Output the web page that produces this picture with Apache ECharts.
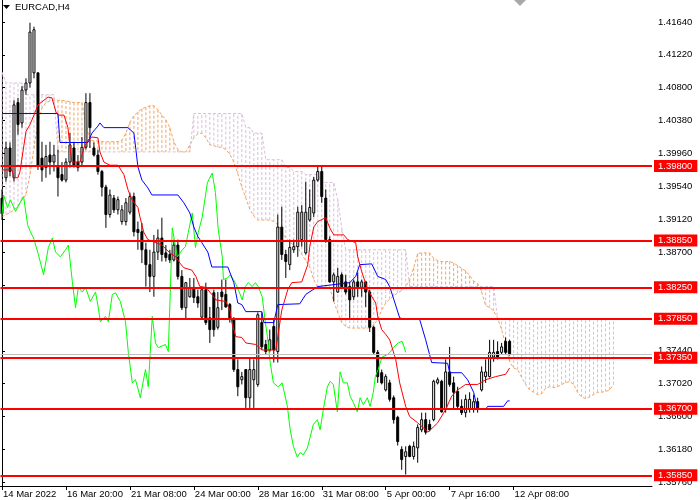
<!DOCTYPE html>
<html>
<head>
<meta charset="utf-8">
<title>EURCAD,H4</title>
<script src="https://cdn.jsdelivr.net/npm/echarts@6/dist/echarts.min.js"></script>
<style>
    html, body { margin: 0; padding: 0; background: #ffffff; }
    #chart { width: 700px; height: 500px; }
</style>
</head>
<body>
<div id="chart"></div>
<script>
// time axis labels, one every 16 bars (H4)
var timeLabels = ['14 Mar 2022', '16 Mar 20:00', '21 Mar 08:00', '24 Mar 00:00', '28 Mar 16:00',
    '31 Mar 08:00', '5 Apr 00:00', '7 Apr 16:00', '12 Apr 08:00'];
var timeTicks = [0, 16, 32, 48, 64, 80, 96, 112, 128];

// price scale labels
var priceTicks = [1.3576, 1.3618, 1.3660, 1.3702, 1.3744, 1.3786, 1.3828, 1.3870,
    1.3912, 1.3954, 1.3996, 1.4038, 1.4080, 1.4122, 1.4164];

// horizontal levels (red)
var levels = [1.3980, 1.3885, 1.3825, 1.3785, 1.3735, 1.3670, 1.3585];

// candles
var opens = [1.3939,1.3965,1.4003,1.3965,1.4061,1.4035,1.4077,1.4086,1.4099,1.4099,
    1.3990,1.3978,1.3994,1.3985,1.3979,1.3969,1.3962,1.3985,1.4003,1.3985,
    1.3985,1.4004,1.4061,1.4003,1.3994,1.3973,1.3953,1.3918,1.3939,1.3924,
    1.3909,1.3909,1.3921,1.3941,1.3899,1.3896,1.3873,1.3854,1.3839,1.3870,
    1.3888,1.3869,1.3867,1.3860,1.3879,1.3839,1.3799,1.3813,1.3825,1.3813,
    1.3787,1.3822,1.3786,1.3818,1.3774,1.3819,1.3816,1.3803,1.3784,1.3720,
    1.3707,1.3720,1.3684,1.3707,1.3701,1.3780,1.3752,1.3745,1.3775,1.3743,
    1.3902,1.3867,1.3854,1.3873,1.3877,1.3886,1.3869,1.3911,1.3920,1.3962,
    1.3973,1.3939,1.3886,1.3832,1.3819,1.3841,1.3832,1.3826,1.3813,1.3832,
    1.3825,1.3832,1.3819,1.3774,1.3742,1.3716,1.3694,1.3703,1.3684,1.3659,
    1.3618,1.3609,1.3622,1.3609,1.3620,1.3643,1.3656,1.3650,1.3656,1.3703,
    1.3705,1.3669,1.3717,1.3703,1.3692,1.3673,1.3665,1.3669,1.3669,1.3679,
    1.3694,1.3711,1.3711,1.3736,1.3743,1.3742,1.3756,1.3756];
var closes = [1.3919,1.4003,1.3973,1.4058,1.4033,1.4077,1.4086,1.4151,1.4154,1.3981,
    1.3975,1.3992,1.3985,1.3994,1.3965,1.3962,1.3985,1.4007,1.3981,1.3978,
    1.4004,1.4061,1.4029,1.3994,1.3973,1.3953,1.3918,1.3943,1.3924,1.3937,
    1.3924,1.3933,1.3941,1.3896,1.3895,1.3873,1.3854,1.3839,1.3870,1.3888,
    1.3867,1.3863,1.3860,1.3879,1.3839,1.3799,1.3831,1.3825,1.3812,1.3805,
    1.3822,1.3780,1.3771,1.3771,1.3799,1.3813,1.3800,1.3784,1.3720,1.3698,
    1.3711,1.3684,1.3720,1.3720,1.3790,1.3749,1.3743,1.3758,1.3745,1.3902,
    1.3867,1.3858,1.3876,1.3877,1.3921,1.3921,1.3921,1.3927,1.3962,1.3973,
    1.3941,1.3886,1.3832,1.3841,1.3839,1.3826,1.3819,1.3809,1.3832,1.3826,
    1.3832,1.3819,1.3774,1.3742,1.3711,1.3703,1.3711,1.3682,1.3656,1.3628,
    1.3605,1.3615,1.3609,1.3622,1.3646,1.3656,1.3640,1.3643,1.3705,1.3707,
    1.3666,1.3717,1.3701,1.3691,1.3673,1.3665,1.3682,1.3682,1.3679,1.3669,
    1.3717,1.3717,1.3742,1.3742,1.3736,1.3749,1.3742,1.3740];
var highs = [1.3950,1.4011,1.4010,1.4064,1.4067,1.4082,1.4092,1.4163,1.4158,1.4099,
    1.4011,1.4007,1.4011,1.4007,1.4001,1.3985,1.3990,1.4022,1.4011,1.3994,
    1.4017,1.4073,1.4073,1.4010,1.4001,1.3975,1.3956,1.3950,1.3943,1.3941,
    1.3930,1.3939,1.3946,1.3946,1.3909,1.3907,1.3882,1.3873,1.3892,1.3899,
    1.3914,1.3879,1.3873,1.3886,1.3886,1.3847,1.3832,1.3837,1.3837,1.3822,
    1.3826,1.3831,1.3800,1.3822,1.3819,1.3835,1.3835,1.3805,1.3787,1.3733,
    1.3717,1.3720,1.3735,1.3733,1.3793,1.3793,1.3758,1.3771,1.3784,1.3918,
    1.3928,1.3873,1.3886,1.3886,1.3928,1.3930,1.3960,1.3950,1.3966,1.3979,
    1.3979,1.3950,1.3890,1.3844,1.3850,1.3844,1.3841,1.3832,1.3835,1.3844,
    1.3835,1.3832,1.3822,1.3776,1.3745,1.3720,1.3714,1.3707,1.3687,1.3661,
    1.3622,1.3622,1.3624,1.3628,1.3650,1.3665,1.3665,1.3656,1.3707,1.3710,
    1.3707,1.3733,1.3749,1.3711,1.3698,1.3682,1.3688,1.3691,1.3688,1.3684,
    1.3724,1.3733,1.3758,1.3758,1.3756,1.3754,1.3761,1.3758];
var lows = [1.3911,1.3960,1.3967,1.3960,1.4020,1.4029,1.4071,1.4080,1.4092,1.3975,
    1.3960,1.3965,1.3969,1.3973,1.3941,1.3960,1.3959,1.3978,1.3978,1.3973,
    1.3981,1.4001,1.4003,1.3992,1.3969,1.3941,1.3901,1.3914,1.3920,1.3918,
    1.3905,1.3904,1.3918,1.3890,1.3873,1.3856,1.3826,1.3819,1.3813,1.3860,
    1.3858,1.3858,1.3856,1.3858,1.3835,1.3796,1.3784,1.3812,1.3805,1.3799,
    1.3784,1.3777,1.3754,1.3762,1.3771,1.3796,1.3799,1.3780,1.3717,1.3686,
    1.3701,1.3671,1.3671,1.3671,1.3698,1.3745,1.3739,1.3742,1.3729,1.3729,
    1.3860,1.3837,1.3847,1.3869,1.3864,1.3877,1.3867,1.3909,1.3915,1.3960,
    1.3933,1.3882,1.3831,1.3807,1.3818,1.3825,1.3816,1.3786,1.3809,1.3813,
    1.3813,1.3800,1.3768,1.3739,1.3703,1.3701,1.3692,1.3679,1.3651,1.3623,
    1.3592,1.3586,1.3608,1.3605,1.3601,1.3640,1.3637,1.3641,1.3654,1.3701,
    1.3665,1.3665,1.3698,1.3669,1.3669,1.3662,1.3659,1.3665,1.3665,1.3665,
    1.3692,1.3703,1.3710,1.3730,1.3733,1.3739,1.3739,1.3738];

// ichimoku: tenkan-sen (red), kijun-sen (blue), chikou (green) as [bar, price]
var tenkan = [[0,1.3975],[2.5,1.3975],[3,1.3965],[4,1.3965],[4.5,1.3973],[6,1.4024],[7,1.4033],[8,1.4045],
    [9,1.4058],[10.5,1.4064],[11.5,1.4068],[12.5,1.4067],[13.5,1.4049],[14,1.4045],[15.5,1.4045],[16.5,1.4029],
    [17,1.4004],[17.5,1.3985],[19.5,1.3985],[20.5,1.4003],[21.5,1.4013],[22.5,1.4017],[24,1.4016],[24.5,1.3998],
    [25.5,1.3985],[27,1.3981],[29,1.3981],[30.5,1.3969],[31.5,1.3950],[32.5,1.3937],[34,1.3927],[34.5,1.3915],
    [35.5,1.3895],[36.5,1.3886],[38.5,1.3882],[40,1.3879],[42,1.3869],[43.5,1.3864],[44.5,1.3856],[45.5,1.3850],
    [47.5,1.3847],[48.5,1.3839],[49.5,1.3826],[51,1.3825],[51.5,1.3822],[53,1.3813],[53.5,1.3809],[56,1.3807],
    [57,1.3796],[57.5,1.3780],[58.5,1.3762],[60,1.3761],[61,1.3754],[63.5,1.3752],[65,1.3745],[68.5,1.3745],
    [70,1.3796],[71.5,1.3822],[72.5,1.3831],[75,1.3832],[76.5,1.3854],[77,1.3877],[78,1.3902],[79,1.3909],
    [81,1.3914],[82,1.3901],[83,1.3892],[85.5,1.3892],[86.5,1.3886],[88.5,1.3882],[89,1.3864],[90,1.3845],
    [91.5,1.3822],[93.5,1.3805],[94,1.3788],[95,1.3771],[96,1.3765],[97,1.3758],[98.5,1.3733],[99.5,1.3703],
    [101,1.3673],[102,1.3660],[104,1.3652],[106,1.3643],[106.5,1.3640],[108,1.3647],[109,1.3652],[111,1.3669],
    [112.5,1.3686],[114,1.3694],[116,1.3701],[119,1.3701],[121,1.3707],[123.5,1.3711],[126,1.3714],[127,1.3722]];
var kijun = [[0,1.4047],[14,1.4047],[14.5,1.4010],[21.5,1.4010],[22.5,1.4022],[24,1.4031],[24.5,1.4035],[25.5,1.4029],
    [31.5,1.4029],[33,1.4022],[33.5,1.4001],[34,1.3979],[35,1.3962],[36.5,1.3952],[37.5,1.3943],[44,1.3943],
    [45.5,1.3933],[47,1.3920],[48,1.3902],[49,1.3890],[50,1.3882],[51.5,1.3870],[52.5,1.3851],[56.5,1.3851],
    [58,1.3831],[59,1.3805],[60,1.3803],[61,1.3794],[65,1.3794],[65.5,1.3780],[68,1.3780],[69,1.3803],
    [74.5,1.3804],[76,1.3816],[79,1.3826],[87,1.3831],[88.5,1.3839],[89.5,1.3854],[92.5,1.3855],[94,1.3839],
    [96,1.3835],[97,1.3826],[99.5,1.3786],[101,1.3784],[104.5,1.3784],[106,1.3758],[107.5,1.3729],[111.5,1.3728],
    [112,1.3716],[115,1.3716],[116.5,1.3707],[118,1.3691],[119,1.3669],[121,1.3669],[121.5,1.3673],[125.5,1.3673],
    [126.5,1.3680],[127,1.3680]];
var chikou = [[0,1.3918],[0.4,1.3943],[1.4,1.3927],[2.1,1.3937],[3.4,1.3922],[4.6,1.3934],[5.4,1.3941],[6.4,1.3905],
    [7.1,1.3896],[7.9,1.3888],[9.1,1.3867],[10.4,1.3841],[11.6,1.3876],[12.6,1.3888],[13.4,1.3870],[14.6,1.3864],
    [15.9,1.3873],[16.6,1.3879],[17.6,1.3832],[18.4,1.3799],[19.1,1.3825],[20.1,1.3819],[20.9,1.3825],[22.1,1.3807],
    [23.4,1.3819],[24.1,1.3799],[24.6,1.3781],[25.9,1.3788],[26.6,1.3781],[27.6,1.3816],[28.4,1.3818],[29.6,1.3807],
    [30.9,1.3781],[31.6,1.3742],[32.6,1.3703],[33.4,1.3707],[34.1,1.3694],[34.6,1.3684],[35.4,1.3707],[35.9,1.3720],
    [36.6,1.3698],[37.6,1.3788],[38.4,1.3754],[39.1,1.3748],[40.9,1.3752],[41.6,1.3743],[42.1,1.3818],[42.6,1.3901],
    [43.1,1.3886],[43.9,1.3864],[45.1,1.3873],[45.9,1.3877],[46.6,1.3895],[47.6,1.3920],[48.4,1.3876],[49.1,1.3895],
    [50.1,1.3915],[51.4,1.3959],[52.6,1.3971],[53.4,1.3946],[54.1,1.3899],[55.1,1.3864],[55.4,1.3835],[56.4,1.3837],
    [57.1,1.3841],[57.9,1.3835],[58.9,1.3825],[60.1,1.3809],[60.9,1.3826],[61.6,1.3831],[62.6,1.3826],[63.4,1.3831],
    [64.1,1.3826],[65.1,1.3813],[65.9,1.3780],[66.4,1.3762],[67.1,1.3729],[67.9,1.3703],[69.1,1.3698],[70.1,1.3703],
    [71.4,1.3673],[72.1,1.3643],[72.9,1.3622],[73.9,1.3608],[74.6,1.3614],[75.4,1.3611],[76.4,1.3620],[77.1,1.3634],
    [77.9,1.3650],[78.9,1.3656],[79.6,1.3643],[80.4,1.3669],[81.4,1.3698],[82.1,1.3705],[82.9,1.3701],[83.9,1.3666],
    [84.6,1.3717],[85.4,1.3703],[86.4,1.3703],[87.1,1.3686],[87.9,1.3678],[88.9,1.3666],[89.6,1.3684],[90.4,1.3675],
    [91.4,1.3684],[92.1,1.3673],[92.9,1.3691],[93.4,1.3711],[94.1,1.3720],[95.1,1.3736],[96.4,1.3739],[97.1,1.3742],
    [97.9,1.3748],[99.1,1.3754],[100.1,1.3756],[100.6,1.3749],[101,1.3742]];

// senkou span A / B, one value per bar (cloud runs 26 bars ahead)
var spanA = [1.3915,1.3918,1.3920,1.3924,1.3928,1.3937,1.3943,1.3969,1.4003,1.4036,
    1.4054,1.4061,1.4063,1.4064,1.4064,1.4064,1.4063,1.4062,1.4061,1.4061,
    1.4061,1.4033,1.4013,1.4012,1.4012,1.4011,1.4011,1.4011,1.4011,1.4011,
    1.4013,1.4022,1.4036,1.4044,1.4049,1.4053,1.4055,1.4057,1.4057,1.4052,
    1.4045,1.4039,1.4029,1.4011,1.4001,1.3998,1.3998,1.4007,1.4016,1.4021,
    1.4022,1.4016,1.4007,1.4006,1.4004,1.4004,1.4001,1.3995,1.3985,1.3970,
    1.3953,1.3939,1.3925,1.3916,1.3911,1.3911,1.3911,1.3911,1.3909,1.3905,
    1.3896,1.3888,1.3883,1.3879,1.3876,1.3867,1.3859,1.3851,1.3835,1.3825,
    1.3825,1.3825,1.3825,1.3807,1.3793,1.3780,1.3775,1.3773,1.3773,1.3773,
    1.3773,1.3773,1.3773,1.3777,1.3784,1.3796,1.3805,1.3810,1.3814,1.3818,
    1.3821,1.3826,1.3835,1.3850,1.3868,1.3869,1.3869,1.3869,1.3862,1.3859,
    1.3858,1.3858,1.3858,1.3856,1.3853,1.3849,1.3846,1.3840,1.3833,1.3830,
    1.3819,1.3802,1.3799,1.3795,1.3786,1.3771,1.3752,1.3730,1.3722,1.3720,
    1.3710,1.3701,1.3694,1.3691,1.3688,1.3689,1.3696,1.3698,1.3697,1.3698,
    1.3701,1.3703,1.3705,1.3701,1.3691,1.3685,1.3683,1.3685,1.3688,1.3691,
    1.3691,1.3692,1.3694,1.3701];
var spanB = [1.4100,1.4086,1.4086,1.4086,1.4086,1.4086,1.4071,1.4071,1.4071,1.4071,
    1.4071,1.4071,1.4071,1.4071,1.3998,1.3998,1.3998,1.3998,1.3998,1.3998,
    1.3998,1.3998,1.3998,1.3998,1.3998,1.3998,1.3998,1.3998,1.3998,1.3998,
    1.3998,1.3998,1.3998,1.3998,1.3998,1.3998,1.3998,1.3998,1.3998,1.3998,
    1.3998,1.3998,1.3998,1.3998,1.3998,1.3998,1.3998,1.3998,1.4047,1.4047,
    1.4047,1.4047,1.4047,1.4047,1.4047,1.4047,1.4047,1.4047,1.4047,1.4047,
    1.4047,1.4029,1.4029,1.4022,1.4022,1.4022,1.3988,1.3988,1.3988,1.3988,
    1.3988,1.3978,1.3978,1.3973,1.3973,1.3973,1.3969,1.3969,1.3969,1.3969,
    1.3959,1.3959,1.3959,1.3959,1.3937,1.3901,1.3873,1.3873,1.3873,1.3873,
    1.3873,1.3873,1.3873,1.3873,1.3873,1.3873,1.3873,1.3873,1.3873,1.3873,
    1.3873,1.3873,1.3826,1.3826,1.3826,1.3826,1.3826,1.3826,1.3826,1.3826,
    1.3826,1.3826,1.3826,1.3826,1.3826,1.3826,1.3826,1.3826,1.3826,1.3826,
    1.3826,1.3826,1.3826,1.3826,1.3785,1.3785,1.3785,1.3785,1.3785,1.3785,
    1.3785,1.3785,1.3785,1.3785,1.3785,1.3785,1.3785,1.3785,1.3785,1.3785,
    1.3785,1.3785,1.3785,1.3785,1.3785,1.3785,1.3785,1.3785,1.3785,1.3785,
    1.3785,1.3785,1.3785,1.3785];

var FONT = 'Liberation Sans, Arial, sans-serif';
var ORANGE = '#f4a460';   // sandybrown
var THISTLE = '#d8bfd8';

window.onload = function () {
    var chart = echarts.init(document.getElementById('chart'));

    var candleData = opens.map(function (o, i) {
        return [i, o, closes[i], lows[i], highs[i]];
    });
    var cloudData = spanA.map(function (a, i) {
        return [i, a, spanB[i]];
    });
    var lastClose = closes[closes.length - 1];

    // candle: black wick + body (white = up, black = down)
    function renderCandle(params, api) {
        var i = api.value(0);
        var o = api.value(1), c = api.value(2);
        var pO = api.coord([i, o]);
        var pC = api.coord([i, c]);
        var pL = api.coord([i, api.value(3)]);
        var pH = api.coord([i, api.value(4)]);
        var x = pO[0];
        var top = Math.min(pO[1], pC[1]);
        var h = Math.max(Math.abs(pO[1] - pC[1]), 1);
        return {
            type: 'group',
            children: [
                { type: 'line', shape: { x1: x, y1: pH[1], x2: x, y2: pL[1] },
                  style: { stroke: '#000', lineWidth: 1 } },
                { type: 'rect', shape: { x: x - 1, y: top, width: 2, height: h },
                  style: { fill: c >= o ? '#fff' : '#000', stroke: '#000', lineWidth: 1 } }
            ]
        };
    }

    // cloud hatching: one dotted vertical per bar
    function renderCloud(params, api) {
        var i = api.value(0), a = api.value(1), b = api.value(2);
        var pa = api.coord([i, a]);
        var pb = api.coord([i, b]);
        return {
            type: 'line',
            shape: { x1: pa[0], y1: pa[1], x2: pb[0], y2: pb[1] },
            style: { stroke: a >= b ? ORANGE : THISTLE, lineWidth: 1, lineDash: [3, 2] }
        };
    }

    var option = {
        animation: false,
        backgroundColor: '#fff',
        textStyle: { fontFamily: FONT },
        grid: { left: 0, right: 48, top: 0, bottom: 14, containLabel: false },
        xAxis: {
            type: 'value',
            min: -0.375,
            max: 162.625,
            axisLine: { show: true, lineStyle: { color: '#000', width: 1 } },
            axisTick: { show: true, length: 4, lineStyle: { color: '#000' }, customValues: timeTicks },
            axisLabel: {
                show: true, customValues: timeTicks, align: 'left', margin: 3,
                padding: [0, 0, 0, 1],
                color: '#000', fontSize: 9.5, fontFamily: FONT,
                formatter: function (v) { return timeLabels[Math.round(v / 16)]; }
            },
            splitLine: { show: false }
        },
        yAxis: {
            type: 'value',
            position: 'right',
            min: 1.35713,
            max: 1.41920,
            scale: true,
            axisLine: { show: true, lineStyle: { color: '#000', width: 1 } },
            axisTick: { show: true, length: 3, lineStyle: { color: '#000' }, customValues: priceTicks },
            axisLabel: {
                show: true, customValues: priceTicks, margin: 6,
                color: '#000', fontSize: 9.5, fontFamily: FONT,
                formatter: function (v) { return v.toFixed(5); }
            },
            splitLine: { show: false }
        },
        graphic: [
            { type: 'polygon', left: 3, top: 5, shape: { points: [[0, 0], [7, 0], [3.5, 4]] },
              style: { fill: '#000' } },
            { type: 'text', left: 15, top: 2,
              style: { text: 'EURCAD,H4', fill: '#000', font: '9.5px ' + FONT } },
            { type: 'polygon', left: 514, top: 0, shape: { points: [[0, 0], [12, 0], [6, 6]] },
              style: { fill: '#a8a8a8' } }
        ],
        series: [
            {
                name: 'cloud',
                type: 'custom',
                renderItem: renderCloud,
                data: cloudData,
                encode: { x: 0, y: [1, 2] },
                silent: true,
                z: 1
            },
            {
                name: 'spanA',
                type: 'line',
                data: spanA.map(function (v, i) { return [i, v]; }),
                showSymbol: false,
                lineStyle: { color: ORANGE, width: 1, type: [3, 2] },
                silent: true,
                z: 2
            },
            {
                name: 'spanB',
                type: 'line',
                data: spanB.map(function (v, i) { return [i, v]; }),
                showSymbol: false,
                lineStyle: { color: THISTLE, width: 1, type: [3, 2] },
                silent: true,
                z: 2
            },
            {
                // current price line
                name: 'bid',
                type: 'line',
                data: [],
                markLine: {
                    silent: true, symbol: 'none', animation: false, precision: 5,
                    lineStyle: { color: '#c0c0c0', width: 1, type: 'solid' },
                    label: { show: false },
                    data: [{ yAxis: lastClose }]
                },
                z: 2
            },
            {
                name: 'candles',
                type: 'custom',
                renderItem: renderCandle,
                data: candleData,
                encode: { x: 0, y: [1, 2, 3, 4] },
                silent: true,
                z: 3
            },
            {
                name: 'chikou',
                type: 'line',
                data: chikou,
                showSymbol: false,
                lineStyle: { color: '#00ff00', width: 1 },
                silent: true,
                z: 4
            },
            {
                name: 'kijun',
                type: 'line',
                data: kijun,
                showSymbol: false,
                lineStyle: { color: '#0000ff', width: 1 },
                silent: true,
                z: 4
            },
            {
                name: 'tenkan',
                type: 'line',
                data: tenkan,
                showSymbol: false,
                lineStyle: { color: '#ff0000', width: 1 },
                silent: true,
                z: 4
            },
            {
                // support / resistance levels
                name: 'levels',
                type: 'line',
                data: [],
                z: 10,
                markLine: {
                    silent: true, symbol: 'none', animation: false, precision: 5,
                    lineStyle: { color: '#ff0000', width: 2, type: 'solid' },
                    label: {
                        show: true, position: 'end', distance: 2,
                        formatter: function (p) { return Number(p.value).toFixed(5); },
                        backgroundColor: '#ff0000', color: '#ffffff',
                        fontSize: 9.5, fontFamily: FONT, padding: [1, 5, 1, 4]
                    },
                    data: levels.map(function (v) { return { yAxis: v }; })
                }
            }
        ]
    };

    chart.setOption(option);
};
</script>
</body>
</html>
